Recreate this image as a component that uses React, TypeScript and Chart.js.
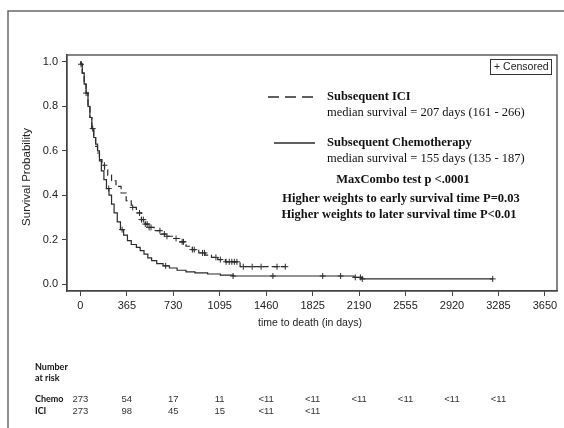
import { useEffect, useRef } from "react";
import { Chart, registerables } from "chart.js";
Chart.register(...registerables);

// Kaplan-Meier step points (time in days, survival probability after the step)
const iciTimes = [0, 5, 15, 30, 45, 60, 75, 90, 105, 120, 135, 150, 170, 190, 215, 245, 280, 320, 360, 400, 440, 480, 510, 540, 580, 630, 680, 730, 780, 830, 880, 930, 980, 1030, 1080, 1140, 1255, 1610];
const iciSurv = [1.0, 0.99, 0.95, 0.9, 0.86, 0.8, 0.75, 0.7, 0.66, 0.62, 0.59, 0.56, 0.535, 0.515, 0.49, 0.465, 0.44, 0.41, 0.375, 0.345, 0.32, 0.29, 0.27, 0.255, 0.24, 0.225, 0.215, 0.205, 0.19, 0.17, 0.155, 0.14, 0.13, 0.12, 0.11, 0.1, 0.078, 0.078];
const chemoTimes = [0, 5, 15, 30, 45, 60, 75, 90, 105, 120, 135, 150, 165, 185, 205, 225, 245, 265, 290, 315, 340, 370, 400, 440, 470, 500, 530, 560, 600, 650, 700, 760, 830, 900, 1000, 1100, 1200, 2150, 2210, 3240];
const chemoSurv = [1.0, 0.99, 0.95, 0.9, 0.86, 0.8, 0.75, 0.7, 0.66, 0.63, 0.6, 0.555, 0.51, 0.47, 0.43, 0.4, 0.36, 0.32, 0.28, 0.245, 0.22, 0.195, 0.178, 0.165, 0.15, 0.135, 0.118, 0.105, 0.092, 0.082, 0.072, 0.062, 0.055, 0.05, 0.045, 0.04, 0.036, 0.03, 0.023, 0.023];

// Censoring times
const iciCensorTimes = [5, 45, 97, 189, 411, 465, 480, 495, 510, 525, 540, 555, 625, 660, 680, 752, 800, 810, 880, 895, 960, 975, 1065, 1100, 1145, 1170, 1190, 1210, 1230, 1280, 1350, 1420, 1545, 1610];
const chemoCensorTimes = [223, 328, 670, 1200, 1513, 1904, 2045, 2160, 2200, 2215, 3240];

// Axis ticks
const xTicks = [0, 365, 730, 1095, 1460, 1825, 2190, 2555, 2920, 3285, 3650];
const yTicks = [0, 0.2, 0.4, 0.6, 0.8, 1.0];

// Number at risk
const riskTimes = [0, 365, 730, 1095, 1460, 1825, 2190, 2555, 2920, 3285];
const riskChemo = ["273", "54", "17", "11", "<11", "<11", "<11", "<11", "<11", "<11"];
const riskIci = ["273", "98", "45", "15", "<11", "<11"];

function survAt(times: number[], surv: number[], t: number) {
  let v = surv[0];
  for (let i = 0; i < times.length; i++) {
    if (times[i] <= t) v = surv[i];
  }
  return v;
}

const INK = "#2b2b2b";
const SERIF = "'Liberation Serif', 'Times New Roman', serif";
const SANS = "'Liberation Sans', Arial, sans-serif";

const decor = {
  id: "decor",
  afterDraw(chart: any) {
    const ctx = chart.ctx as CanvasRenderingContext2D;
    const a = chart.chartArea;
    const xs = chart.scales.x;
    ctx.save();
    // outer frame
    ctx.strokeStyle = "#6a6a6a";
    ctx.lineWidth = 1.5;
    ctx.beginPath();
    ctx.moveTo(8, 440);
    ctx.lineTo(8, 11);
    ctx.lineTo(570, 11);
    ctx.stroke();
    // plot frame
    ctx.strokeStyle = "#444";
    ctx.lineWidth = 1.3;
    ctx.strokeRect(a.left, a.top, a.right - a.left, a.bottom - a.top);

    // axis titles
    ctx.fillStyle = "#222";
    ctx.font = `10.5px ${SANS}`;
    ctx.textAlign = "center";
    ctx.textBaseline = "middle";
    ctx.fillText("time to death (in days)", 310, 323);
    ctx.save();
    ctx.translate(27, 177);
    ctx.rotate(-Math.PI / 2);
    ctx.font = `11.5px ${SANS}`;
    ctx.fillText("Survival Probability", 0, 0);
    ctx.restore();

    // censored legend box
    ctx.strokeStyle = "#333";
    ctx.lineWidth = 1;
    ctx.strokeRect(490.5, 59.5, 61, 15);
    ctx.font = `10.5px ${SANS}`;
    ctx.textAlign = "left";
    ctx.fillStyle = "#222";
    ctx.fillText("+ Censored", 494, 67);

    // line samples
    ctx.strokeStyle = INK;
    ctx.lineWidth = 1.3;
    ctx.setLineDash([11, 6]);
    ctx.beginPath();
    ctx.moveTo(268, 97);
    ctx.lineTo(314, 97);
    ctx.stroke();
    ctx.setLineDash([]);
    ctx.beginPath();
    ctx.moveTo(274, 143);
    ctx.lineTo(315, 143);
    ctx.stroke();

    // annotation text
    ctx.fillStyle = "#111";
    ctx.textAlign = "left";
    ctx.font = `bold 12.5px ${SERIF}`;
    ctx.fillText("Subsequent ICI", 327, 97);
    ctx.fillText("Subsequent Chemotherapy", 327, 143);
    ctx.font = `12.5px ${SERIF}`;
    ctx.fillText("median survival = 207 days (161 - 266)", 327, 113);
    ctx.fillText("median survival = 155 days (135 - 187)", 327, 159);
    ctx.textAlign = "center";
    ctx.font = `bold 12.5px ${SERIF}`;
    ctx.fillText("MaxCombo test p <.0001", 403, 180);
    ctx.fillText("Higher weights to early survival time P=0.03", 401, 199);
    ctx.fillText("Higher weights to later survival time P<0.01", 399, 215);

    // number at risk table
    ctx.textAlign = "left";
    ctx.fillStyle = "#111";
    ctx.font = `bold 9px Lato, ${SANS}`;
    ctx.fillText("Number", 35, 367);
    ctx.fillText("at risk", 35, 378);
    ctx.fillText("Chemo", 35, 399);
    ctx.fillText("ICI", 35, 411);
    ctx.font = `9.5px ${SANS}`;
    ctx.fillStyle = "#333";
    ctx.textAlign = "center";
    riskChemo.forEach((v, i) => {
      ctx.fillText(v, xs.getPixelForValue(riskTimes[i]), 399);
    });
    riskIci.forEach((v, i) => {
      ctx.fillText(v, xs.getPixelForValue(riskTimes[i]), 411);
    });
    ctx.restore();
  },
};

export default function App() {
  const ref = useRef<HTMLCanvasElement | null>(null);
  useEffect(() => {
    if (!ref.current) return;
    const chart = new Chart(ref.current, {
      type: "line",
      data: {
        datasets: [
          {
            label: "Subsequent ICI",
            data: iciTimes.map((t, i) => ({ x: t, y: iciSurv[i] })),
            stepped: true,
            borderColor: INK,
            borderWidth: 1.2,
            borderDash: [6, 3],
            pointRadius: 0,
            fill: false,
          },
          {
            label: "Subsequent Chemotherapy",
            data: chemoTimes.map((t, i) => ({ x: t, y: chemoSurv[i] })),
            stepped: true,
            borderColor: INK,
            borderWidth: 1.2,
            pointRadius: 0,
            fill: false,
          },
          {
            label: "ICI censored",
            data: iciCensorTimes.map((t) => ({ x: t, y: survAt(iciTimes, iciSurv, t) })),
            showLine: false,
            pointStyle: "cross",
            pointRadius: 3,
            pointBorderWidth: 1,
            borderColor: INK,
            backgroundColor: INK,
          },
          {
            label: "Chemo censored",
            data: chemoCensorTimes.map((t) => ({ x: t, y: survAt(chemoTimes, chemoSurv, t) })),
            showLine: false,
            pointStyle: "cross",
            pointRadius: 3,
            pointBorderWidth: 1,
            borderColor: INK,
            backgroundColor: INK,
          },
        ],
      },
      options: {
        animation: false,
        responsive: false,
        maintainAspectRatio: false,
        layout: { padding: { top: 55, right: 7, left: 0, bottom: 0 } },
        plugins: { legend: { display: false }, tooltip: { enabled: false } },
        scales: {
          x: {
            type: "linear",
            min: -105,
            max: 3745,
            afterBuildTicks: (axis: any) => {
              axis.ticks = xTicks.map((v) => ({ value: v }));
            },
            afterFit: (scale: any) => {
              scale.height = 137;
            },
            ticks: {
              callback: (v: any) => String(v),
              color: "#222",
              font: { family: SANS, size: 11 },
              padding: 3,
              maxRotation: 0,
              autoSkip: false,
            },
            grid: { drawOnChartArea: false, drawTicks: true, tickLength: 5, color: "#444" },
            border: { display: true, color: "#444", width: 1.3 },
          },
          y: {
            type: "linear",
            min: -0.0315,
            max: 1.0315,
            afterBuildTicks: (axis: any) => {
              axis.ticks = yTicks.map((v) => ({ value: v }));
            },
            afterFit: (scale: any) => {
              scale.width = 67;
            },
            ticks: {
              callback: (v: any) => Number(v).toFixed(1),
              color: "#222",
              font: { family: SANS, size: 11 },
              padding: 4,
              autoSkip: false,
            },
            grid: { drawOnChartArea: false, drawTicks: true, tickLength: 5, color: "#444" },
            border: { display: true, color: "#444", width: 1.3 },
          },
        },
      },
      plugins: [decor],
    });
    return () => chart.destroy();
  }, []);
  return (
    <div style={{ position: "fixed", left: 0, top: 0, width: 564, height: 428, background: "#fff" }}>
      <canvas ref={ref} width={564} height={428} style={{ display: "block" }} />
    </div>
  );
}
